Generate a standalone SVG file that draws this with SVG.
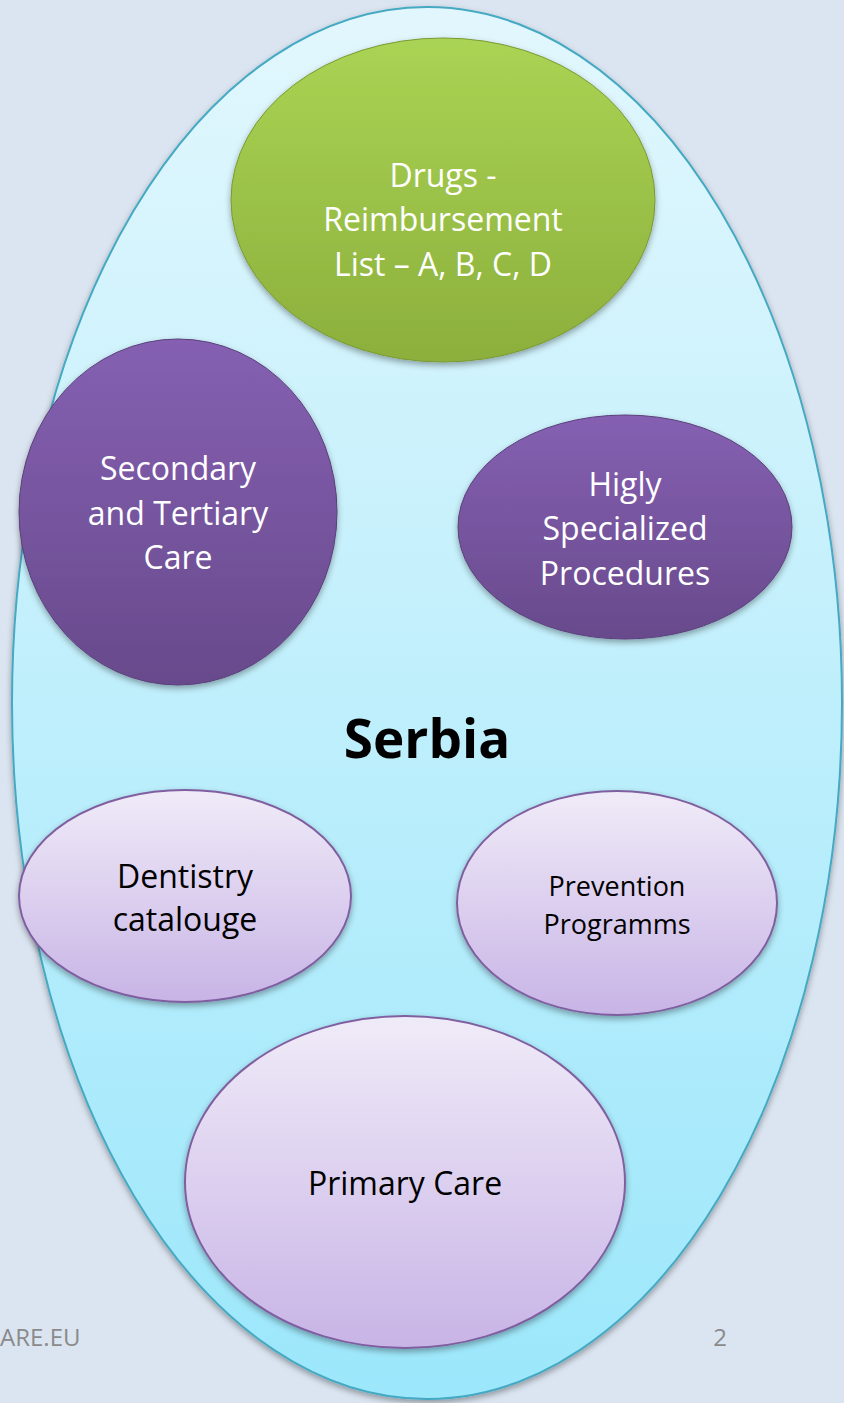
<svg xmlns="http://www.w3.org/2000/svg" width="844" height="1403" viewBox="0 0 844 1403">
<style>
.t{font-family:"Open Sans","Noto Sans","Liberation Sans",sans-serif;text-anchor:middle}
.w{fill:#ffffff;font-size:32px}
.k{fill:#000000;font-size:32px}
.ft{font-family:"Open Sans","Liberation Sans",sans-serif;fill:#8a8a8a;font-size:24px}
</style>
<defs>
<linearGradient id="gBig" x1="0" y1="0" x2="0" y2="1"><stop offset="0" stop-color="#e2f7fd"/><stop offset="1" stop-color="#9ce7fb"/></linearGradient>
<linearGradient id="gGreen" x1="0" y1="0" x2="0" y2="1"><stop offset="0" stop-color="#aad454"/><stop offset="1" stop-color="#8caf3c"/></linearGradient>
<linearGradient id="gDark" x1="0" y1="0" x2="0" y2="1"><stop offset="0" stop-color="#8560b2"/><stop offset="1" stop-color="#684a8c"/></linearGradient>
<linearGradient id="gLight" x1="0" y1="0" x2="0" y2="1"><stop offset="0" stop-color="#f0ebf8"/><stop offset="1" stop-color="#c8b4e6"/></linearGradient>
<filter id="sh" x="-10%" y="-10%" width="120%" height="125%"><feDropShadow dx="0" dy="3" stdDeviation="3" flood-color="#000" flood-opacity="0.35"/></filter>
</defs>
<rect width="844" height="1403" fill="#dbe5f1"/>
<text class="ft" x="0" y="1346">ARE.EU</text>
<text class="ft" x="720" y="1346" text-anchor="middle">2</text>
<g id="serbia">
<ellipse cx="427" cy="703" rx="415" ry="696" fill="url(#gBig)" stroke="#45a9c3" stroke-width="2" filter="url(#sh)"/>
<text class="t" x="427" y="758" font-size="53" font-weight="bold" fill="#000">Serbia</text>
</g>
<g id="drugs">
<ellipse cx="443" cy="200" rx="212" ry="162" fill="url(#gGreen)" stroke="#7a9a32" stroke-width="1" filter="url(#sh)"/>
<text class="t w"><tspan x="443" y="187">Drugs -</tspan><tspan x="443" y="231">Reimbursement</tspan><tspan x="443" y="276">List – A, B, C, D</tspan></text>
</g>
<g id="secondary">
<ellipse cx="178" cy="512" rx="159" ry="173" fill="url(#gDark)" stroke="#5a3f7a" stroke-width="1" filter="url(#sh)"/>
<text class="t w"><tspan x="178" y="480">Secondary</tspan><tspan x="178" y="525">and Tertiary</tspan><tspan x="178" y="569">Care</tspan></text>
</g>
<g id="highly">
<ellipse cx="625" cy="527" rx="167" ry="112" fill="url(#gDark)" stroke="#5a3f7a" stroke-width="1" filter="url(#sh)"/>
<text class="t w"><tspan x="625" y="496">Higly</tspan><tspan x="625" y="540">Specialized</tspan><tspan x="625" y="585">Procedures</tspan></text>
</g>
<g id="dentistry">
<ellipse cx="185" cy="896" rx="166" ry="106" fill="url(#gLight)" stroke="#7f5f9f" stroke-width="2" filter="url(#sh)"/>
<text class="t k"><tspan x="185" y="888">Dentistry</tspan><tspan x="185" y="931">catalouge</tspan></text>
</g>
<g id="prevention">
<ellipse cx="617" cy="903" rx="160" ry="112" fill="url(#gLight)" stroke="#7f5f9f" stroke-width="2" filter="url(#sh)"/>
<text class="t k"><tspan x="617" y="896" font-size="27">Prevention</tspan><tspan x="617" y="934" font-size="27">Programms</tspan></text>
</g>
<g id="primary">
<ellipse cx="405" cy="1182" rx="220" ry="166" fill="url(#gLight)" stroke="#7f5f9f" stroke-width="2" filter="url(#sh)"/>
<text class="t k" x="405" y="1195">Primary Care</text>
</g>
<g id="connectors"/>
</svg>
